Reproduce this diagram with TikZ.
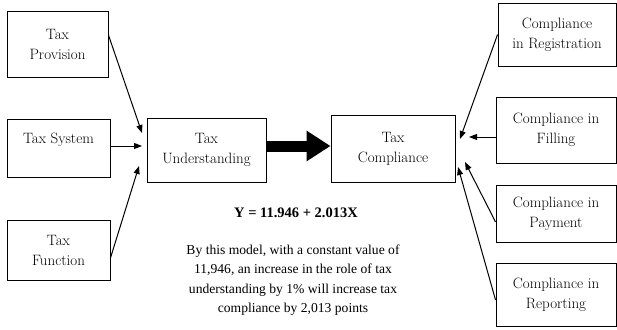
\documentclass[tikz,border=0pt]{standalone}
\usepackage{fontspec}
\usetikzlibrary{arrows.meta}
\newfontfamily\timesfont{Liberation Serif}

\begin{document}
\begin{tikzpicture}[x=1pt, y=-1pt,
  box/.style={draw, line width=0.9pt, inner sep=0pt, align=center,
              font=\fontsize{15}{20}\selectfont},
  arr/.style={-{Triangle[length=8pt,width=6pt]}, line width=1pt},
  bigarr/.style={-{Triangle[length=24pt,width=29pt]}, line width=11pt},
  txt/.style={font=\timesfont\fontsize{13.6}{19.5}\selectfont, align=center},
]
\useasboundingbox (0,0) rectangle (617,329);

% ---- Left: factors of understanding ----
\node[box, minimum width=101pt, minimum height=66pt] (prov) at (57.5,44)
  {Tax\\Provision};
\node[box, minimum width=103pt, minimum height=58pt] (sys) at (58.5,148)
  {Tax System\\~};
\node[box, minimum width=103pt, minimum height=60pt] (func) at (58.5,250)
  {Tax\\Function};

% ---- Centre ----
\node[box, minimum width=119pt, minimum height=64pt] (und) at (206.5,150)
  {Tax\\Understanding};
\node[box, minimum width=124pt, minimum height=67pt] (comp) at (393,148.5)
  {Tax\\Compliance};
\draw[bigarr] (und.east |- 0,146) -- (comp.west |- 0,146);

% ---- Right: forms of compliance ----
\node[box, minimum width=118pt, minimum height=63pt] (reg) at (557,34.5)
  {Compliance\\in Registration};
\node[box, minimum width=120pt, minimum height=66pt] (fil) at (556,130)
  {Compliance in\\Filling};
\node[box, minimum width=120pt, minimum height=57pt] (pay) at (556,213.5)
  {Compliance in\\Payment};
\node[box, minimum width=120pt, minimum height=63pt] (rep) at (556,294.5)
  {Compliance in\\Reporting};

% arrow tips stop short of the boxes
\coordinate (inP) at (142,133);
\coordinate (inS) at (142,146);
\coordinate (inF) at (139,166);
\coordinate (inR) at (460,139);
\coordinate (inL) at (469,137);
\coordinate (inY) at (465,162);
\coordinate (inT) at (458,167);

\draw[arr] ([yshift=9pt]prov.east) -- (inP);
\draw[arr] ([yshift=2pt]sys.east) -- (inS);
\draw[arr] ([yshift=-8pt]func.east) -- (inF);
\draw[arr] (reg.west) -- (inR);
\draw[arr] ([yshift=-7pt]fil.west) -- (inL);
\draw[arr] ([yshift=-8.5pt]pay.west) -- (inY);
\draw[arr] ([yshift=-5.5pt]rep.west) -- (inT);

% ---- Model ----
\node[txt, font=\timesfont\bfseries\fontsize{14.5}{19}\selectfont] (eq) at (296,213)
  {Y = 11.946 + 2.013X};
\node[txt] (note) at (293,280)
  {By this model, with a constant value of\\
   11,946, an increase in the role of tax\\
   understanding by 1\% will increase tax\\
   compliance by 2,013 points};

\end{tikzpicture}
\end{document}
